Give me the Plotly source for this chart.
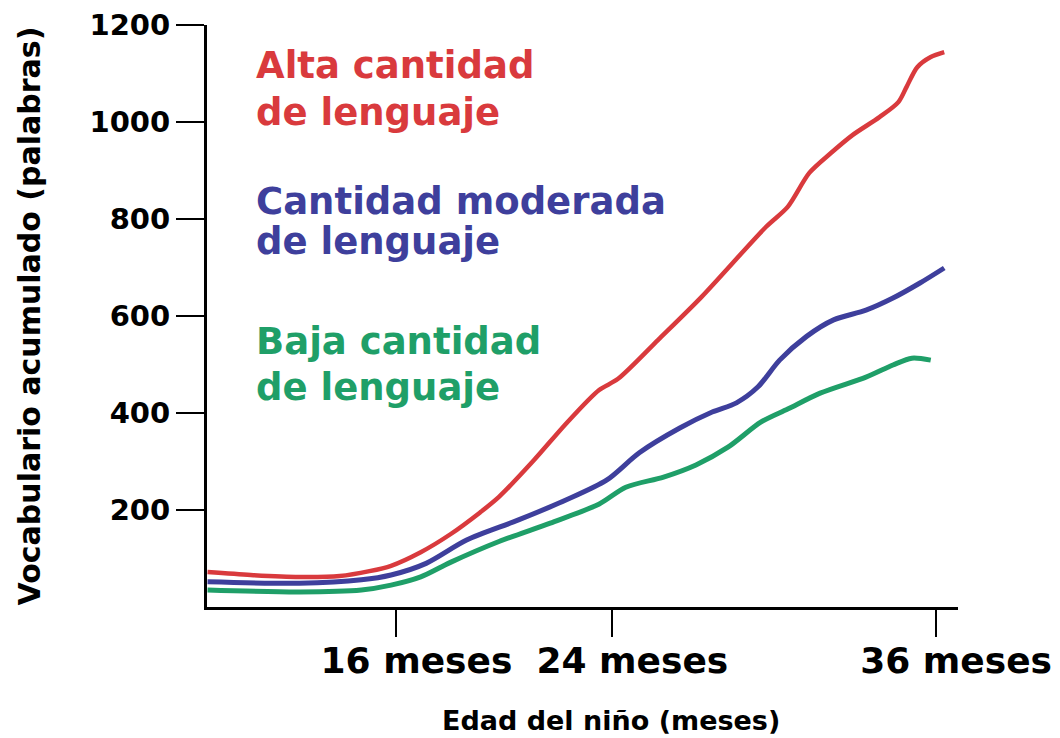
import plotly.graph_objects as go

# Data (age in months, cumulative vocabulary in words)
red_months = [9.0, 10.6, 12.4, 13.9, 15.0, 15.8, 16.9, 18.0, 19.1, 19.8, 21.1, 22.3, 23.5, 24.2,
              25.7, 27.3, 29.7, 30.5, 31.3, 32.1, 32.9, 33.9, 34.6, 34.9, 35.3, 35.8, 36.3]
red_vals = [72, 66, 62, 64, 74, 85, 113, 150, 195, 227, 303, 379, 447, 470,
            551, 639, 784, 825, 895, 936, 973, 1010, 1041, 1072, 1113, 1134, 1144]

blue_months = [9.0, 12.4, 14.7, 15.8, 17.1, 18.6, 20.5, 22.3, 23.8, 25.0, 26.5, 27.7, 28.6,
               29.4, 30.2, 31.2, 32.2, 33.4, 34.4, 35.4, 36.3]
blue_vals = [52, 49, 56, 66, 90, 138, 179, 221, 262, 318, 369, 402, 421,
             454, 509, 558, 592, 612, 637, 668, 699]

green_months = [9.0, 12.4, 14.7, 15.8, 16.9, 18.0, 19.8, 21.7, 23.5, 24.5, 25.9, 27.1, 28.3,
                29.5, 30.5, 31.7, 33.4, 34.4, 35.1, 35.8]
green_vals = [35, 31, 35, 45, 62, 92, 135, 173, 212, 247, 268, 293, 330,
              381, 408, 441, 474, 499, 513, 509]

x_tickvals = [16, 24, 36]
x_ticktext = ["16 meses", "24 meses", "36 meses"]
y_tickvals = [200, 400, 600, 800, 1000, 1200]
y_ticktext = ["200", "400", "600", "800", "1000", "1200"]

RED = "#d93a3d"
BLUE = "#3e3f9c"
GREEN = "#1f9f68"
FONT = "DejaVu Sans"

fig = go.Figure()
fig.add_trace(go.Scatter(x=red_months, y=red_vals, mode="lines",
                         line=dict(color=RED, width=4.5, shape="spline", smoothing=0.8)))
fig.add_trace(go.Scatter(x=blue_months, y=blue_vals, mode="lines",
                         line=dict(color=BLUE, width=5, shape="spline", smoothing=0.8)))
fig.add_trace(go.Scatter(x=green_months, y=green_vals, mode="lines",
                         line=dict(color=GREEN, width=5, shape="spline", smoothing=0.8)))

labels = [
    ("Alta cantidad", RED, 0.9296),
    ("de lenguaje", RED, 0.8488),
    ("Cantidad moderada", BLUE, 0.6960),
    ("de lenguaje", BLUE, 0.6280),
    ("Baja cantidad", GREEN, 0.4570),
    ("de lenguaje", GREEN, 0.3763),
]
annotations = []
for txt, col, yy in labels:
    annotations.append(dict(text=txt, xref="paper", yref="paper", x=0.062, y=yy,
                            xanchor="left", yanchor="middle", showarrow=False,
                            font=dict(family=FONT, size=37, color=col, weight="bold")))
annotations.append(dict(text="Edad del niño (meses)", xref="paper", yref="paper",
                        x=0.538, y=-0.195, xanchor="center", yanchor="middle",
                        showarrow=False,
                        font=dict(family=FONT, size=27, color="black", weight="bold")))

# page body has an 8px margin: shrink the figure so the plot lands where the reference has it
fig.update_layout(
    width=1052, height=730,
    margin=dict(l=199, r=102, t=17, b=131, autoexpand=False),
    paper_bgcolor="white", plot_bgcolor="white",
    showlegend=False,
    annotations=annotations,
    xaxis=dict(range=[8.98, 36.81], tickvals=x_tickvals, ticktext=x_ticktext,
               ticks="outside", ticklen=27, tickwidth=1.5, tickcolor="black",
               showline=True, linecolor="black", linewidth=3,
               showgrid=False, zeroline=False,
               ticklabelshift=20, ticklabelstandoff=-7, ticklabeloverflow="allow",
               tickfont=dict(family=FONT, size=36, color="black", weight="bold")),
    yaxis=dict(range=[0, 1200], tickvals=y_tickvals, ticktext=y_ticktext,
               ticks="outside", ticklen=28, tickwidth=1.5, tickcolor="black",
               showline=True, linecolor="black", linewidth=3,
               showgrid=False, zeroline=False, ticklabelstandoff=0,
               tickfont=dict(family=FONT, size=29, color="black", weight="bold"),
               title=dict(text="Vocabulario acumulado (palabras)", standoff=40,
                          font=dict(family=FONT, size=30, color="black", weight="bold"))),
)

fig.write_html("out.html")
